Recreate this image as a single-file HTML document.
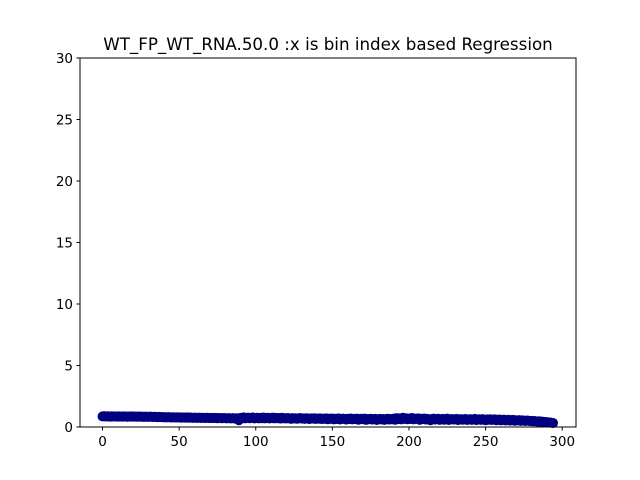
<!DOCTYPE html>
<html><head><meta charset="utf-8"><style>
body{margin:0;background:#fff;}
svg{display:block;font-family:"DejaVu Sans","Liberation Sans",sans-serif;}
</style></head><body>
<svg id="chart" width="640" height="480">
<rect width="640" height="480" fill="#fff"/>
<text x="328" y="50" text-anchor="middle" font-size="16.7">WT_FP_WT_RNA.50.0 :x is bin index based Regression</text>
<g id="points"></g>
<rect x="80" y="58" width="496" height="369" fill="none" stroke="#000" stroke-width="1"/>
<g id="xaxis"></g>
<g id="yaxis"></g>
</svg>
<script>
const yValues = [
0.86,0.88,0.85,0.87,0.86,0.84,0.87,0.85,0.86,0.85,
0.84,0.86,0.85,0.84,0.86,0.85,0.83,0.85,0.84,0.86,
0.84,0.85,0.83,0.84,0.85,0.83,0.84,0.82,0.84,0.83,
0.82,0.84,0.83,0.81,0.83,0.82,0.80,0.82,0.81,0.80,
0.79,0.80,0.78,0.80,0.79,0.77,0.79,0.78,0.77,0.79,
0.78,0.76,0.78,0.77,0.76,0.78,0.75,0.77,0.76,0.74,
0.76,0.75,0.74,0.76,0.73,0.75,0.74,0.73,0.75,0.74,
0.72,0.74,0.73,0.72,0.74,0.71,0.73,0.72,0.71,0.73,
0.72,0.70,0.72,0.71,0.70,0.72,0.69,0.71,0.70,0.55,
0.74,0.72,0.78,0.70,0.73,0.76,0.71,0.74,0.77,0.70,
0.72,0.75,0.70,0.74,0.71,0.77,0.70,0.73,0.75,0.69,
0.72,0.76,0.70,0.74,0.71,0.73,0.68,0.75,0.70,0.72,
0.69,0.73,0.70,0.66,0.72,0.69,0.71,0.67,0.70,0.73,
0.68,0.70,0.66,0.71,0.69,0.64,0.70,0.68,0.71,0.65,
0.69,0.67,0.70,0.64,0.68,0.66,0.70,0.63,0.68,0.66,
0.69,0.62,0.67,0.65,0.70,0.61,0.66,0.68,0.64,0.60,
0.67,0.65,0.69,0.62,0.66,0.64,0.68,0.59,0.65,0.67,
0.63,0.68,0.58,0.65,0.63,0.67,0.60,0.64,0.66,0.57,
0.63,0.66,0.61,0.65,0.58,0.64,0.67,0.60,0.65,0.62,
0.68,0.59,0.72,0.64,0.70,0.62,0.75,0.66,0.71,0.63,
0.69,0.65,0.73,0.62,0.68,0.66,0.70,0.58,0.67,0.64,
0.69,0.60,0.66,0.63,0.55,0.65,0.68,0.60,0.64,0.67,
0.58,0.63,0.66,0.59,0.64,0.68,0.57,0.62,0.65,0.60,
0.63,0.66,0.56,0.62,0.64,0.59,0.63,0.65,0.57,0.61,
0.64,0.58,0.62,0.66,0.56,0.61,0.63,0.58,0.64,0.60,
0.55,0.62,0.59,0.63,0.57,0.60,0.62,0.55,0.59,0.61,
0.54,0.58,0.60,0.53,0.57,0.59,0.52,0.56,0.58,0.51,
0.55,0.53,0.56,0.50,0.54,0.52,0.49,0.53,0.51,0.48,
0.50,0.47,0.49,0.46,0.45,0.47,0.43,0.44,0.42,0.41,
0.40,0.38,0.37,0.35,0.33
];
const xTicks = [0,50,100,150,200,250,300];
const yTicks = [0,5,10,15,20,25,30];
const xMin=-14.7, xMax=309, yMin=0, yMax=30;
const L=80,R=576,T=58,B=427;
const sx=v=>L+(v-xMin)/(xMax-xMin)*(R-L);
const sy=v=>B-(v-yMin)/(yMax-yMin)*(B-T);
const NS="http://www.w3.org/2000/svg";
const pg=document.getElementById('points');
yValues.forEach((v,i)=>{
  const c=document.createElementNS(NS,'circle');
  c.setAttribute('cx',sx(i));c.setAttribute('cy',sy(v));c.setAttribute('r',5);
  c.setAttribute('fill','#000080');
  
  
  pg.appendChild(c);
});
const xg=document.getElementById('xaxis');
xTicks.forEach(t=>{
  const x=sx(t);
  const l=document.createElementNS(NS,'line');
  l.setAttribute('x1',x);l.setAttribute('x2',x);l.setAttribute('y1',B);l.setAttribute('y2',B+3.5);l.setAttribute('stroke','#000');
  
  
  xg.appendChild(l);
  const tx=document.createElementNS(NS,'text');
  tx.setAttribute('x',x);tx.setAttribute('y',B+19);tx.setAttribute('text-anchor','middle');tx.setAttribute('font-size','13.5');
  tx.textContent=t;
  
  
  xg.appendChild(tx);
});
const yg=document.getElementById('yaxis');
yTicks.forEach(t=>{
  const y=sy(t);
  const l=document.createElementNS(NS,'line');
  l.setAttribute('x1',L-3.5);l.setAttribute('x2',L);l.setAttribute('y1',y);l.setAttribute('y2',y);l.setAttribute('stroke','#000');
  
  
  yg.appendChild(l);
  const tx=document.createElementNS(NS,'text');
  tx.setAttribute('x',L-7);tx.setAttribute('y',y+5);tx.setAttribute('text-anchor','end');tx.setAttribute('font-size','13.5');
  tx.textContent=t;
  
  
  yg.appendChild(tx);
});
</script>
</body></html>
